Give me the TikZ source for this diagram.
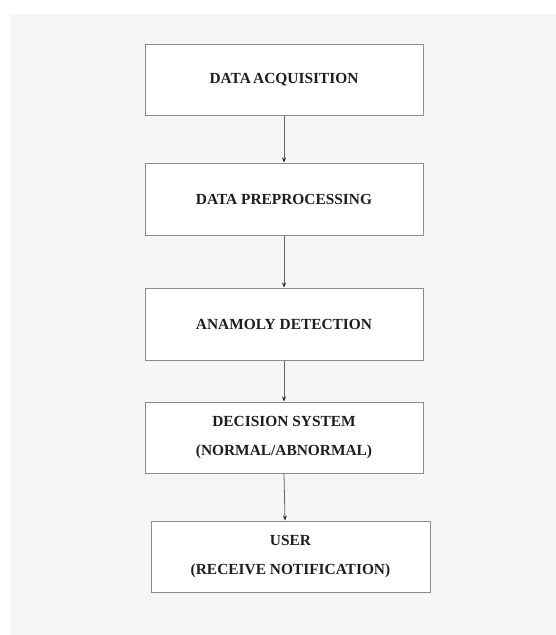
\documentclass[tikz,border=0pt]{standalone}
\usepackage{fontspec}
\setmainfont{Liberation Serif}
\usetikzlibrary{arrows.meta,positioning}
\definecolor{bggray}{HTML}{F6F6F6}
\definecolor{boxline}{HTML}{8C8C8C}
\definecolor{txt}{HTML}{1E1E1E}
\tikzset{
  stagebox/.style={draw=boxline, line width=1pt, fill=white, minimum height=#1, inner sep=0pt,
    font=\fontsize{15.4}{28.5}\selectfont\bfseries, text=txt, align=center},
  flowarrow/.style={draw=black!60, line width=0.8pt, -{Stealth[length=5pt,width=4pt,color=black!85]}},
}
\begin{document}
\begin{tikzpicture}[x=1pt,y=-1pt]
\useasboundingbox (0,0) rectangle (556,635);
\fill[white] (0,0) rectangle (556,635);
\fill[bggray] (10,14) rectangle (556,635);
\node[stagebox=71pt, minimum width=278pt] (b1) at (284,79.5) {DATA\kern-1.5pt\ ACQUISITION};
\node[stagebox=72pt, minimum width=278pt] (b2) at (284,199) {DATA PREPROCESSING};
\node[stagebox=72pt, minimum width=278pt] (b3) at (284,324) {ANAMOLY DETECTION};
\node[stagebox=71pt, minimum width=278pt] (b4) at (284,437.5) {DECISION SYSTEM\\(NORMAL/ABNORMAL)};
\node[stagebox=71pt, minimum width=279pt] (b5) at (290.5,556.5) {USER\\(RECEIVE NOTIFICATION)};
\draw[flowarrow] (b1.south) -- (b2.north);
\draw[flowarrow] (b2.south) -- (b3.north);
\draw[flowarrow] (b3.south) -- (b4.north);
\draw[flowarrow] (b4.south) -- ([xshift=-5.5pt]b5.north);
\end{tikzpicture}
\end{document}
